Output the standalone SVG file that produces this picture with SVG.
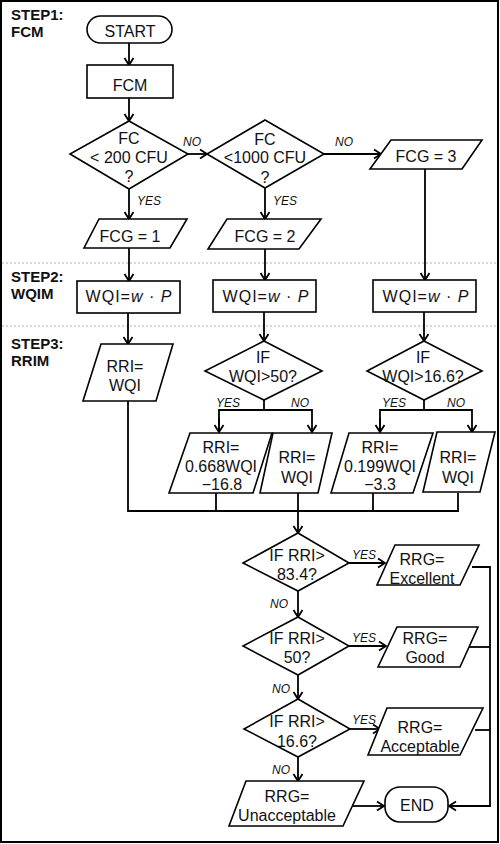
<svg xmlns="http://www.w3.org/2000/svg" width="500" height="844" viewBox="0 0 500 844">
<defs>
<marker id="arr" markerUnits="userSpaceOnUse" markerWidth="12" markerHeight="12" viewBox="-9 -6 12 12" refX="0" refY="0" orient="auto">
<path d="M-7,-4.5 L0,0 L-7,4.5" fill="none" stroke="#000" stroke-width="1.8"/>
</marker>
</defs>
<style>
.s{fill:#fff;stroke:#000;stroke-width:1.6}
.c{fill:none;stroke:#000;stroke-width:1.8}
.t{font-family:"Liberation Sans",Arial,sans-serif;font-size:16px;text-anchor:middle;fill:#111}
.w{letter-spacing:1px}
.l{font-family:"Liberation Sans",Arial,sans-serif;font-size:12px;font-style:italic;fill:#111}
.h{font-family:"Liberation Sans",Arial,sans-serif;font-size:15px;font-weight:bold;fill:#111}
.i{font-style:italic}
.d{stroke:#b0b0b0;stroke-width:1;stroke-dasharray:2,2}
</style>
<rect x="1" y="1" width="497" height="841" fill="#fff" stroke="#000" stroke-width="2"/>
<line class="d" x1="2" y1="263" x2="497" y2="263"/>
<line class="d" x1="2" y1="326" x2="497" y2="326"/>
<g id="step-labels">
<text class="h" x="11" y="20">STEP1:</text>
<text class="h" x="11" y="37">FCM</text>
<text class="h" x="11" y="282">STEP2:</text>
<text class="h" x="11" y="299">WQIM</text>
<text class="h" x="11" y="349">STEP3:</text>
<text class="h" x="11" y="366">RRIM</text>
</g>
<g id="connectors">
<line class="c" x1="129" y1="43" x2="129" y2="65" marker-end="url(#arr)"/>
<line class="c" x1="129" y1="98" x2="129" y2="121" marker-end="url(#arr)"/>
<line class="c" x1="188" y1="154" x2="207" y2="154" marker-end="url(#arr)"/>
<line class="c" x1="324" y1="154" x2="381" y2="154" marker-end="url(#arr)"/>
<line class="c" x1="129" y1="189" x2="129" y2="219" marker-end="url(#arr)"/>
<line class="c" x1="265" y1="188" x2="265" y2="219" marker-end="url(#arr)"/>
<line class="c" x1="129" y1="248" x2="129" y2="281" marker-end="url(#arr)"/>
<line class="c" x1="265" y1="249" x2="265" y2="280" marker-end="url(#arr)"/>
<line class="c" x1="425" y1="169" x2="425" y2="280" marker-end="url(#arr)"/>
<line class="c" x1="128" y1="313" x2="128" y2="344" marker-end="url(#arr)"/>
<line class="c" x1="264" y1="312" x2="264" y2="341" marker-end="url(#arr)"/>
<line class="c" x1="424" y1="312" x2="424" y2="341" marker-end="url(#arr)"/>
<polyline class="c" points="264,400 264,410"/>
<polyline class="c" points="219,432 219,410 312,410 312,432" marker-end="url(#arr)"/>
<line class="c" x1="219" y1="418" x2="219" y2="432" marker-end="url(#arr)"/>
<polyline class="c" points="424,400 424,410"/>
<polyline class="c" points="380,432 380,410 472,410 472,432" marker-end="url(#arr)"/>
<line class="c" x1="380" y1="418" x2="380" y2="432" marker-end="url(#arr)"/>
<polyline class="c" points="128,401 128,511 458,511 458,493"/>
<line class="c" x1="216" y1="493" x2="216" y2="511"/>
<line class="c" x1="373" y1="493" x2="373" y2="511"/>
<line class="c" x1="298" y1="493" x2="298" y2="533" marker-end="url(#arr)"/>
<line class="c" x1="349" y1="563" x2="385" y2="563" marker-end="url(#arr)"/>
<line class="c" x1="298" y1="591" x2="298" y2="617" marker-end="url(#arr)"/>
<line class="c" x1="349" y1="646" x2="386" y2="646" marker-end="url(#arr)"/>
<line class="c" x1="298" y1="675" x2="298" y2="699" marker-end="url(#arr)"/>
<line class="c" x1="350" y1="729" x2="380" y2="729" marker-end="url(#arr)"/>
<line class="c" x1="298" y1="757" x2="298" y2="781" marker-end="url(#arr)"/>
<line class="c" x1="353" y1="806" x2="384" y2="806" marker-end="url(#arr)"/>
<polyline class="c" points="472,567 490,567 490,806 449,806" marker-end="url(#arr)"/>
<line class="c" x1="465" y1="647" x2="490" y2="647"/>
<line class="c" x1="475" y1="730" x2="490" y2="730"/>
<text class="l" x="183" y="146">NO</text>
<text class="l" x="335" y="146">NO</text>
<text class="l" x="137" y="205">YES</text>
<text class="l" x="273" y="205">YES</text>
<text class="l" x="216" y="407">YES</text>
<text class="l" x="291" y="407">NO</text>
<text class="l" x="382" y="407">YES</text>
<text class="l" x="447" y="407">NO</text>
<text class="l" x="352" y="559">YES</text>
<text class="l" x="270" y="608">NO</text>
<text class="l" x="352" y="642">YES</text>
<text class="l" x="272" y="693">NO</text>
<text class="l" x="352" y="724">YES</text>
<text class="l" x="272" y="774">NO</text>
</g>
<g id="start"><rect class="s" x="87" y="16" width="85" height="27" rx="13.5"/><text class="t" x="130" y="37">START</text></g>
<g id="fcm"><rect class="s" x="87" y="65" width="86" height="33"/><text class="t" x="130" y="91">FCM</text></g>
<g id="d1"><polygon class="s" points="129,121 188,154 129,189 70,154"/><text class="t" x="129" y="144">FC</text><text class="t" x="129" y="163">&lt; 200 CFU</text><text class="t" x="129" y="182">?</text></g>
<g id="d2"><polygon class="s" points="265,120 324,154 265,188 207,154"/><text class="t" x="265" y="145">FC</text><text class="t" x="265" y="163">&lt;1000 CFU</text><text class="t" x="265" y="183">?</text></g>
<g id="fcg3"><polygon class="s" points="391,140 482,140 462,169 370,169"/><text class="t" x="426" y="162">FCG = 3</text></g>
<g id="fcg1"><polygon class="s" points="99,219 187,219 170,248 84,248"/><text class="t" x="130" y="242">FCG = 1</text></g>
<g id="fcg2"><polygon class="s" points="227,219 321,219 299,249 208,249"/><text class="t" x="265" y="242">FCG = 2</text></g>
<g id="wqi1"><rect class="s" x="77" y="281" width="103" height="32"/><text class="t w" x="129" y="302">WQI=<tspan class="i">w</tspan> · <tspan class="i">P</tspan></text></g>
<g id="wqi2"><rect class="s" x="213" y="280" width="103" height="32"/><text class="t w" x="266" y="302">WQI=<tspan class="i">w</tspan> · <tspan class="i">P</tspan></text></g>
<g id="wqi3"><rect class="s" x="373" y="280" width="103" height="32"/><text class="t w" x="426" y="302">WQI=<tspan class="i">w</tspan> · <tspan class="i">P</tspan></text></g>
<g id="rri1"><polygon class="s" points="101,344 173,344 156,401 83,401"/><text class="t" x="125" y="372">RRI=</text><text class="t" x="125" y="391">WQI</text></g>
<g id="d3"><polygon class="s" points="264,341 322,371 264,400 205,371"/><text class="t" x="263" y="363">IF</text><text class="t" x="263" y="382">WQI&gt;50?</text></g>
<g id="d4"><polygon class="s" points="424,341 482,371 424,400 367,371"/><text class="t" x="423" y="363">IF</text><text class="t" x="423" y="382">WQI&gt;16.6?</text></g>
<g id="rri2"><polygon class="s" points="190,433 272,433 253,493 169,493"/><text class="t" x="221" y="453">RRI=</text><text class="t" x="221" y="472">0.668WQI</text><text class="t" x="222" y="490">−16.8</text></g>
<g id="rri3"><polygon class="s" points="273,433 332,433 318,493 260,493"/><text class="t" x="297" y="463">RRI=</text><text class="t" x="297" y="483">WQI</text></g>
<g id="rri4"><polygon class="s" points="349,433 433,433 413,493 331,493"/><text class="t" x="380" y="453">RRI=</text><text class="t" x="380" y="472">0.199WQI</text><text class="t" x="380" y="490">−3.3</text></g>
<g id="rri5"><polygon class="s" points="437,432 495,432 480,492 423,492"/><text class="t" x="458" y="463">RRI=</text><text class="t" x="458" y="483">WQI</text></g>
<g id="d5"><polygon class="s" points="298,533 349,563 298,591 243,563"/><text class="t" x="297" y="561">IF RRI&gt;</text><text class="t" x="297" y="580">83.4?</text></g>
<g id="excellent"><polygon class="s" points="395,545 479,545 460,585 377,585"/><text class="t" x="422" y="565">RRG=</text><text class="t" x="422" y="584">Excellent</text></g>
<g id="d6"><polygon class="s" points="298,617 349,646 298,675 243,646"/><text class="t" x="297" y="644">IF RRI&gt;</text><text class="t" x="297" y="663">50?</text></g>
<g id="good"><polygon class="s" points="397,627 478,627 460,667 378,667"/><text class="t" x="425" y="644">RRG=</text><text class="t" x="425" y="663">Good</text></g>
<g id="d7"><polygon class="s" points="298,699 350,729 298,757 244,729"/><text class="t" x="297" y="727">IF RRI&gt;</text><text class="t" x="297" y="747">16.6?</text></g>
<g id="acceptable"><polygon class="s" points="387,708 483,708 460,755 368,755"/><text class="t" x="420" y="733">RRG=</text><text class="t" x="420" y="752">Acceptable</text></g>
<g id="unacceptable"><polygon class="s" points="246,781 364,781 343,826 229,826"/><text class="t" x="287" y="802">RRG=</text><text class="t" x="287" y="821">Unacceptable</text></g>
<g id="end"><rect class="s" x="385" y="787" width="63" height="35" rx="15"/><text class="t" x="417" y="811">END</text></g>
</svg>
